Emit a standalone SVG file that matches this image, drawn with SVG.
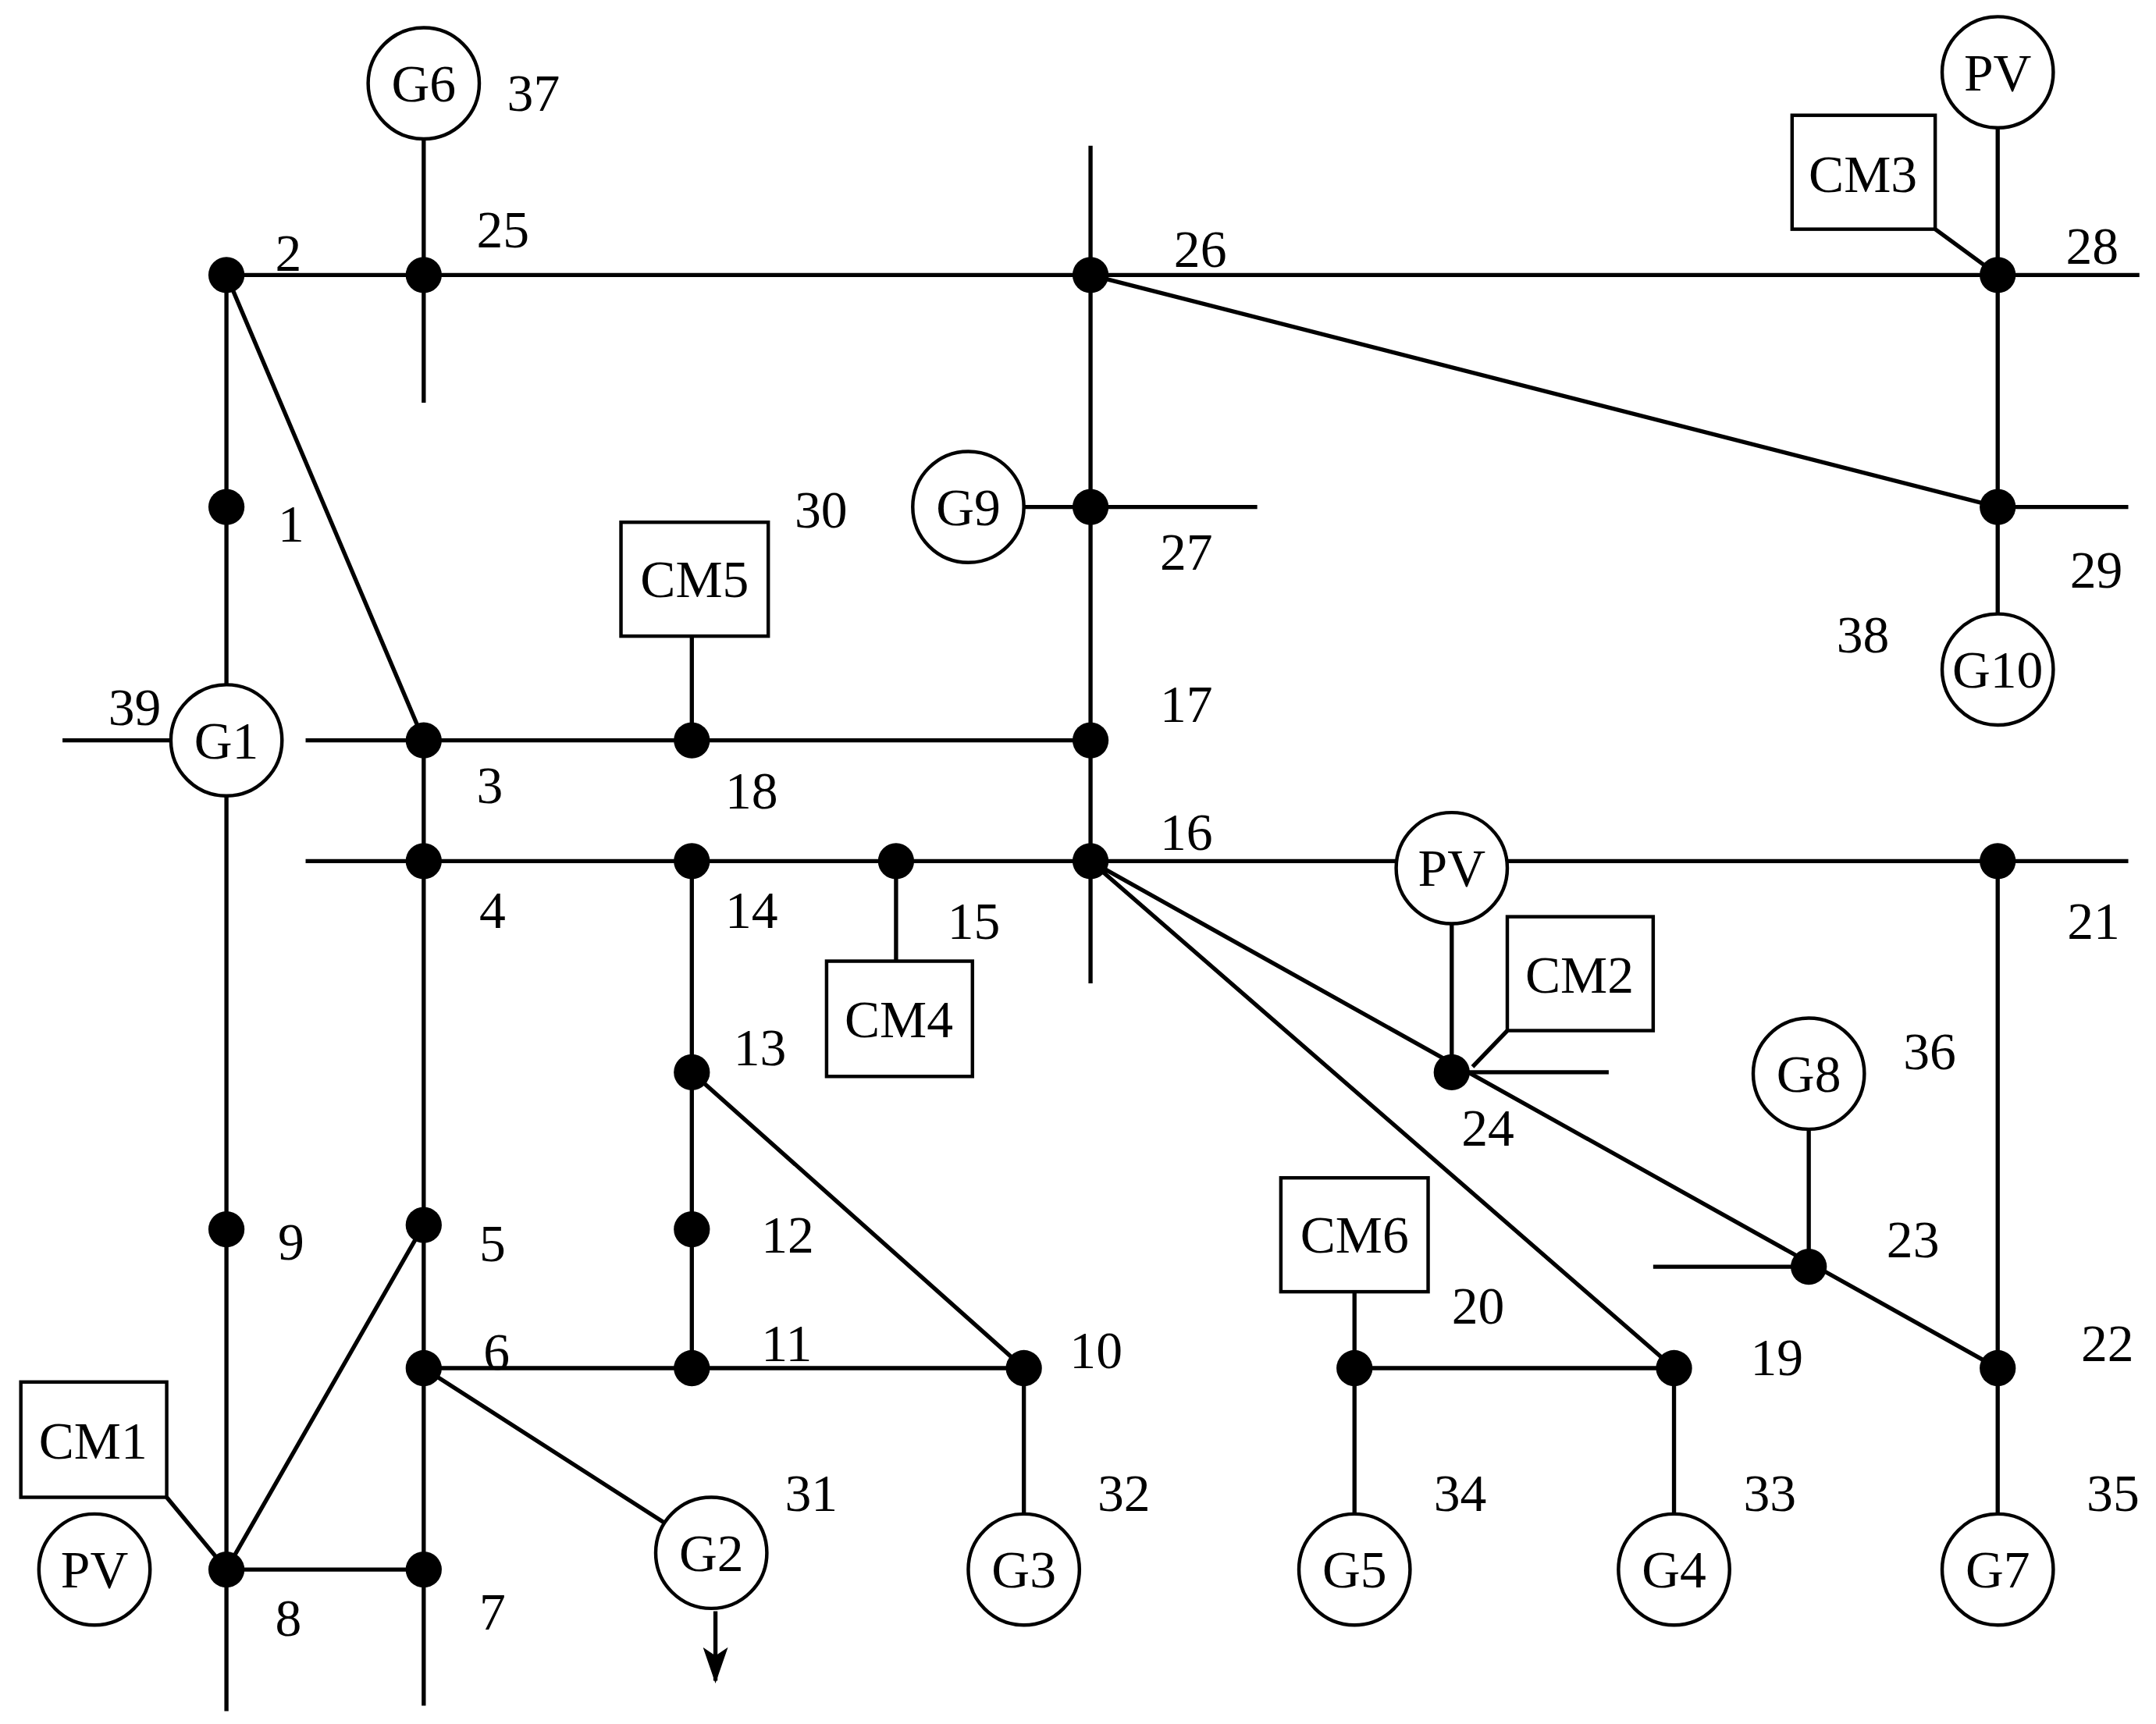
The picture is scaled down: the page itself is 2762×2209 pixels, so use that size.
<svg xmlns="http://www.w3.org/2000/svg" width="2762" height="2209" viewBox="0 0 2762 2209">
<style>
.l{stroke:#000;stroke-width:3;fill:none}
.a{stroke:#000;stroke-width:3;fill:none;marker-end:url(#ah)}
.c{fill:#fff;stroke:#000;stroke-width:2.5}
.t{font-family:"Liberation Serif",serif;font-size:38px;fill:#000}
.m{font-family:"Liberation Serif",serif;font-size:38px;fill:#000;text-anchor:middle}
.d{fill:#000}
</style>
<defs>
<marker id="ah" markerUnits="userSpaceOnUse" markerWidth="26" markerHeight="18" refX="24" refY="9" orient="auto"><path d="M0,0 L26,9 L0,18 L6,9 Z" fill="#000"/></marker>
</defs>
<rect width="2762" height="2209" fill="#fff"/>
<g transform="scale(1.7797)">
<g id="connectors">
<path class="l" d="M163,198H1438M163,198V1130M163,198L305,533M305,533V1130M163,1130H305M163,1130L305,882M120,1078L163,1130M305,60V198M305,985L512,1118M785,198V620M697,365H785M785,198L1438,365M1438,52V365M1393,165L1438,198M305,533H785M498,458V533M305,620H1438M645,620V692M498,620V985M498,772L737,985M305,985H737M737,985V1130M1045,625V772M1060,768L1085,742M785,620L1438,985M785,620L1205,985M1302,773V912M1438,620V1130M975,930V1130M975,985H1205M1205,985V1130"/>
<path class="a" d="M1438,198H1540M785,198V105M305,198V290M785,365H905M1438,365H1532M1438,365V442M163,533H45M305,533H220M305,620H220M785,620V708M1438,620H1532M1045,772H1158M1302,912H1190M163,1130V1232M305,1130V1228M515,1160V1210"/>
</g>
<g id="buses">
<circle class="d" cx="163" cy="198" r="13"/><circle class="d" cx="305" cy="198" r="13"/><circle class="d" cx="785" cy="198" r="13"/><circle class="d" cx="1438" cy="198" r="13"/>
<circle class="d" cx="163" cy="365" r="13"/><circle class="d" cx="785" cy="365" r="13"/><circle class="d" cx="1438" cy="365" r="13"/>
<circle class="d" cx="305" cy="533" r="13"/><circle class="d" cx="498" cy="533" r="13"/><circle class="d" cx="785" cy="533" r="13"/>
<circle class="d" cx="305" cy="620" r="13"/><circle class="d" cx="498" cy="620" r="13"/><circle class="d" cx="645" cy="620" r="13"/><circle class="d" cx="785" cy="620" r="13"/><circle class="d" cx="1438" cy="620" r="13"/>
<circle class="d" cx="498" cy="772" r="13"/><circle class="d" cx="1045" cy="772" r="13"/>
<circle class="d" cx="163" cy="885" r="13"/><circle class="d" cx="305" cy="882" r="13"/><circle class="d" cx="498" cy="885" r="13"/><circle class="d" cx="1302" cy="912" r="13"/>
<circle class="d" cx="305" cy="985" r="13"/><circle class="d" cx="498" cy="985" r="13"/><circle class="d" cx="737" cy="985" r="13"/><circle class="d" cx="975" cy="985" r="13"/><circle class="d" cx="1205" cy="985" r="13"/><circle class="d" cx="1438" cy="985" r="13"/>
<circle class="d" cx="163" cy="1130" r="13"/><circle class="d" cx="305" cy="1130" r="13"/>
</g>
<g id="G6"><circle class="c" cx="305" cy="60" r="40"/><text class="m" x="305" y="73">G6</text></g>
<g id="G1"><circle class="c" cx="163" cy="533" r="40"/><text class="m" x="163" y="546">G1</text></g>
<g id="G9"><circle class="c" cx="697" cy="365" r="40"/><text class="m" x="697" y="378">G9</text></g>
<g id="G10"><circle class="c" cx="1438" cy="482" r="40"/><text class="m" x="1438" y="495">G10</text></g>
<g id="PVtop"><circle class="c" cx="1438" cy="52" r="40"/><text class="m" x="1438" y="65">PV</text></g>
<g id="PVmid"><circle class="c" cx="1045" cy="625" r="40"/><text class="m" x="1045" y="638">PV</text></g>
<g id="PVleft"><circle class="c" cx="68" cy="1130" r="40"/><text class="m" x="68" y="1143">PV</text></g>
<g id="G8"><circle class="c" cx="1302" cy="773" r="40"/><text class="m" x="1302" y="786">G8</text></g>
<g id="G2"><circle class="c" cx="512" cy="1118" r="40"/><text class="m" x="512" y="1131">G2</text></g>
<g id="G3"><circle class="c" cx="737" cy="1130" r="40"/><text class="m" x="737" y="1143">G3</text></g>
<g id="G5"><circle class="c" cx="975" cy="1130" r="40"/><text class="m" x="975" y="1143">G5</text></g>
<g id="G4"><circle class="c" cx="1205" cy="1130" r="40"/><text class="m" x="1205" y="1143">G4</text></g>
<g id="G7"><circle class="c" cx="1438" cy="1130" r="40"/><text class="m" x="1438" y="1143">G7</text></g>
<g id="CM1"><rect class="c" x="15" y="995" width="105" height="83"/><text class="m" x="67" y="1050">CM1</text></g>
<g id="CM2"><rect class="c" x="1085" y="660" width="105" height="82"/><text class="m" x="1137" y="715">CM2</text></g>
<g id="CM3"><rect class="c" x="1290" y="83" width="103" height="82"/><text class="m" x="1341" y="138">CM3</text></g>
<g id="CM4"><rect class="c" x="595" y="692" width="105" height="83"/><text class="m" x="647" y="747">CM4</text></g>
<g id="CM5"><rect class="c" x="447" y="376" width="106" height="82"/><text class="m" x="500" y="430">CM5</text></g>
<g id="CM6"><rect class="c" x="922" y="848" width="106" height="82"/><text class="m" x="975" y="902">CM6</text></g>
<g id="labels">
<text class="t" x="365" y="80">37</text><text class="t" x="343" y="178">25</text><text class="t" x="198" y="195">2</text><text class="t" x="845" y="192">26</text><text class="t" x="1487" y="190">28</text>
<text class="t" x="200" y="390">1</text><text class="t" x="572" y="380">30</text><text class="t" x="835" y="410">27</text><text class="t" x="1490" y="423">29</text><text class="t" x="1322" y="470">38</text>
<text class="t" x="78" y="522">39</text><text class="t" x="835" y="520">17</text><text class="t" x="343" y="578">3</text><text class="t" x="522" y="582">18</text><text class="t" x="835" y="612">16</text>
<text class="t" x="345" y="668">4</text><text class="t" x="522" y="668">14</text><text class="t" x="682" y="676">15</text><text class="t" x="1488" y="676">21</text>
<text class="t" x="528" y="767">13</text><text class="t" x="1370" y="770">36</text><text class="t" x="1052" y="825">24</text>
<text class="t" x="200" y="907">9</text><text class="t" x="345" y="908">5</text><text class="t" x="548" y="902">12</text><text class="t" x="1358" y="905">23</text><text class="t" x="1045" y="953">20</text>
<text class="t" x="348" y="986">6</text><text class="t" x="548" y="980">11</text><text class="t" x="770" y="985">10</text><text class="t" x="1260" y="990">19</text><text class="t" x="1498" y="980">22</text>
<text class="t" x="565" y="1088">31</text><text class="t" x="790" y="1088">32</text><text class="t" x="1032" y="1088">34</text><text class="t" x="1255" y="1088">33</text><text class="t" x="1502" y="1088">35</text>
<text class="t" x="198" y="1178">8</text><text class="t" x="345" y="1173">7</text>
</g>
</g>
</svg>
